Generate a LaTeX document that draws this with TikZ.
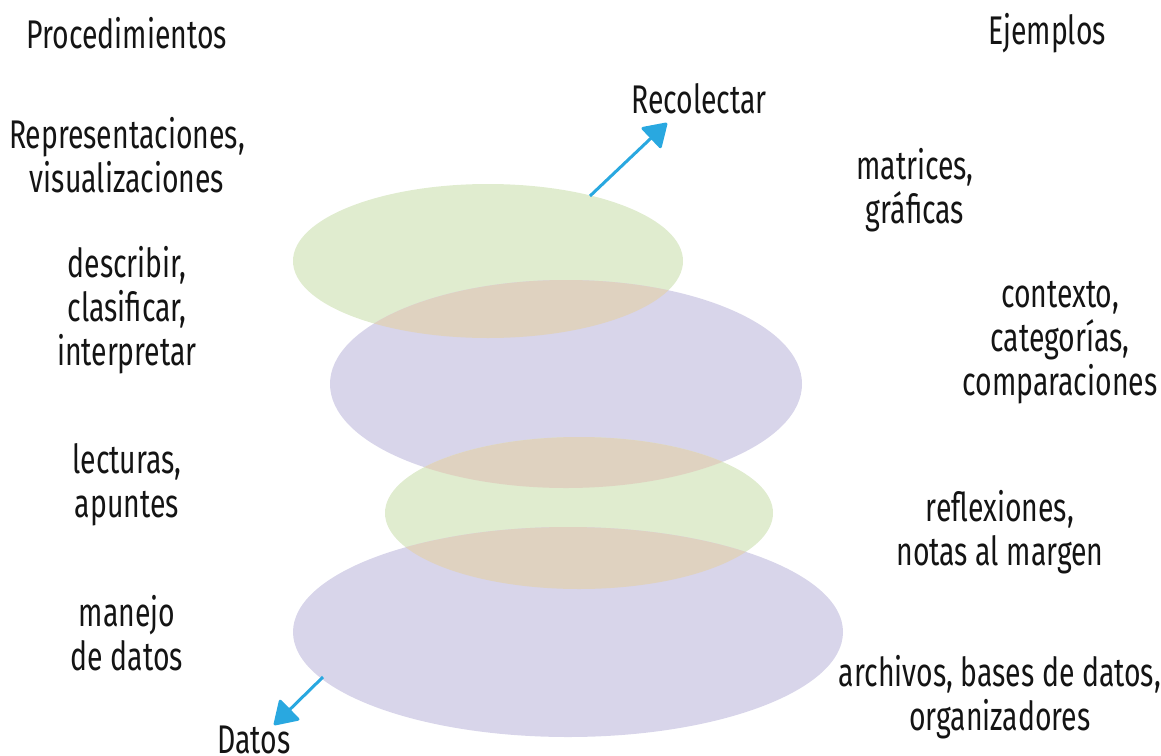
\documentclass[tikz,border=0pt]{standalone}
\usepackage{fontspec}
\setmainfont{Fira Sans}[FakeStretch=0.71]
\usetikzlibrary{arrows.meta}
\definecolor{lgreen}{HTML}{E0ECCF}
\definecolor{lpurple}{HTML}{D8D5EA}
\definecolor{ltan}{HTML}{DFD2C0}
\definecolor{arrowblue}{HTML}{29A8E0}
\definecolor{txt}{HTML}{141414}
\tikzset{
  lbl/.style={align=center, text=txt, font=\fontsize{20}{22}\selectfont, inner sep=0pt},
  flow/.style={draw=arrowblue, line width=1.5pt, -{Triangle[width=15pt,length=12pt,round]}},
}
\begin{document}
\begin{tikzpicture}[x=0.5pt,y=-0.5pt]
\useasboundingbox (0,0) rectangle (1161,755);
% ellipses
\fill[lgreen] (488,261) ellipse [x radius=195, y radius=77];
\fill[lpurple] (566,384) ellipse [x radius=236, y radius=104];
\fill[lgreen] (579,513) ellipse [x radius=194, y radius=76];
\fill[lpurple] (568,632) ellipse [x radius=275, y radius=105];
\begin{scope}
  \clip (488,261) ellipse [x radius=195, y radius=77];
  \fill[ltan] (566,384) ellipse [x radius=236, y radius=104];
\end{scope}
\begin{scope}
  \clip (566,384) ellipse [x radius=236, y radius=104];
  \fill[ltan] (579,513) ellipse [x radius=194, y radius=76];
\end{scope}
\begin{scope}
  \clip (579,513) ellipse [x radius=194, y radius=76];
  \fill[ltan] (568,632) ellipse [x radius=275, y radius=105];
\end{scope}
% arrows
\coordinate (upS) at (590,196);
\coordinate (upE) at (667,123);
\coordinate (dnS) at (323,677);
\coordinate (dnE) at (274,725);
\draw[flow] (upS) -- (upE);
\draw[flow] (dnS) -- (dnE);
% texts
\node[lbl] (proc) at (127,33) {Procedimientos};
\node[lbl] (ejem) at (1047,33) {Ejemplos};
\node[lbl] (reco) at (699,99) {Recolectar};
\node[lbl] (datos) at (254,740) {Datos};
\node[lbl] (p1) at (127,155) {Representaciones,\\visualizaciones};
\node[lbl] (p2) at (127,310) {describir,\\clasificar,\\interpretar};
\node[lbl] (p3) at (127,485) {lecturas,\\apuntes};
\node[lbl] (p4) at (127,633) {manejo\\de datos};
\node[lbl] (e1) at (915,190) {matrices,\\gráficas};
\node[lbl] (e2) at (1060,343) {contexto,\\categorías,\\comparaciones};
\node[lbl] (e3) at (1000,532) {reflexiones,\\notas al margen};
\node[lbl] (e4) at (1000,697) {archivos, bases de datos,\\organizadores};
\end{tikzpicture}
\end{document}
